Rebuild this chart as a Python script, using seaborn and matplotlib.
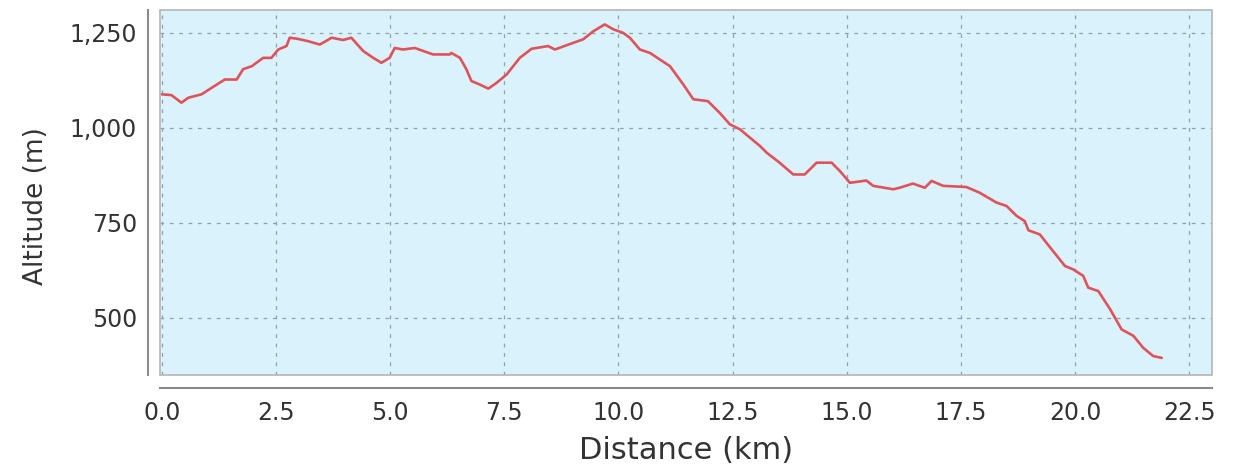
import matplotlib
matplotlib.use("Agg")
import matplotlib.pyplot as plt
import matplotlib.ticker as mticker
from matplotlib.patches import Rectangle
import seaborn as sns
import pandas as pd

# elevation profile
distance_km = [0.00, 0.21, 0.43, 0.58, 0.87, 1.09, 1.38, 1.64, 1.78, 1.97,
               2.22, 2.40, 2.55, 2.73, 2.80, 2.98, 3.20, 3.46, 3.72, 3.97,
               4.15, 4.41, 4.63, 4.81, 4.99, 5.10, 5.28, 5.54, 5.94, 6.31,
               6.34, 6.53, 6.67, 6.78, 6.96, 7.15, 7.33, 7.55, 7.84, 8.10,
               8.46, 8.61, 8.86, 9.23, 9.45, 9.70, 9.89, 10.10, 10.25, 10.47,
               10.69, 11.13, 11.42, 11.64, 11.96, 12.22, 12.44, 12.66, 13.10, 13.25,
               13.53, 13.83, 14.08, 14.34, 14.67, 14.85, 15.07, 15.43, 15.58, 16.02,
               16.16, 16.45, 16.71, 16.86, 17.11, 17.62, 17.91, 18.28, 18.50, 18.72,
               18.90, 18.98, 19.23, 19.52, 19.78, 19.96, 20.18, 20.29, 20.51, 20.77,
               21.02, 21.28, 21.49, 21.71, 21.90]
altitude_m = [1088, 1086, 1066, 1079, 1088, 1105, 1127, 1127, 1154, 1162,
              1184, 1184, 1206, 1215, 1237, 1234, 1228, 1219, 1237, 1231,
              1237, 1202, 1184, 1171, 1184, 1210, 1206, 1210, 1193, 1193,
              1197, 1184, 1154, 1123, 1114, 1103, 1118, 1140, 1184, 1208,
              1215, 1206, 1217, 1233, 1254, 1272, 1259, 1250, 1237, 1206,
              1197, 1162, 1114, 1075, 1070, 1039, 1009, 996, 952, 934,
              908, 877, 877, 908, 908, 886, 855, 861, 847, 838,
              842, 853, 842, 860, 847, 844, 829, 803, 794, 768,
              754, 730, 719, 675, 636, 627, 610, 579, 570, 522,
              469, 452, 421, 399, 394]

x_ticks = [0.0, 2.5, 5.0, 7.5, 10.0, 12.5, 15.0, 17.5, 20.0, 22.5]
y_ticks = [500, 750, 1000, 1250]

df = pd.DataFrame({"Distance (km)": distance_km, "Altitude (m)": altitude_m})

sns.set_style("white")
plt.rcParams["font.family"] = ["DejaVu Sans"]

fig = plt.figure(figsize=(12.43, 4.66), dpi=100)
ax = fig.add_axes([160 / 1243, 91 / 466, 1052 / 1243, 365 / 466])
ax.set_facecolor("#daf2fc")

sns.lineplot(data=df, x="Distance (km)", y="Altitude (m)", ax=ax,
             color="#e0525a", linewidth=1.9, sort=False, estimator=None)

ax.set_xlim(-0.04, 23.0)
ax.set_ylim(349, 1310)
ax.set_xticks(x_ticks)
ax.set_yticks(y_ticks)
ax.xaxis.set_major_formatter(mticker.FormatStrFormatter("%.1f"))
ax.yaxis.set_major_formatter(mticker.FuncFormatter(lambda v, p: f"{v:,.0f}"))

ax.grid(True, color="#8fa2aa", linestyle=(0, (3, 4.5)), linewidth=0.9)
ax.set_axisbelow(True)

# offset axes like the original chart
for side in ["top", "right"]:
    ax.spines[side].set_visible(False)
ax.spines["left"].set_position(("outward", 8.6))
ax.spines["bottom"].set_position(("outward", 9.4))
for side in ["left", "bottom"]:
    ax.spines[side].set_color("#8a8a8a")
    ax.spines[side].set_linewidth(1.5)

ax.add_patch(Rectangle((0, 0), 1, 1, transform=ax.transAxes, fill=False,
                       edgecolor="#b5b5b5", linewidth=1.2, clip_on=False, zorder=5))

ax.tick_params(axis="both", direction="out", length=3, width=1, color="#8a8a8a",
               labelsize=17, labelcolor="#333333")
ax.tick_params(axis="y", pad=5)
ax.tick_params(axis="x", pad=6)

ax.set_xlabel("Distance (km)", fontsize=22, color="#333333")
ax.set_ylabel("Altitude (m)", fontsize=19, color="#333333")
ax.xaxis.set_label_coords(0.5, -0.167)
ax.yaxis.set_label_coords(-0.1055, 0.463)

fig.savefig("out.png", dpi=100)
plt.close(fig)
